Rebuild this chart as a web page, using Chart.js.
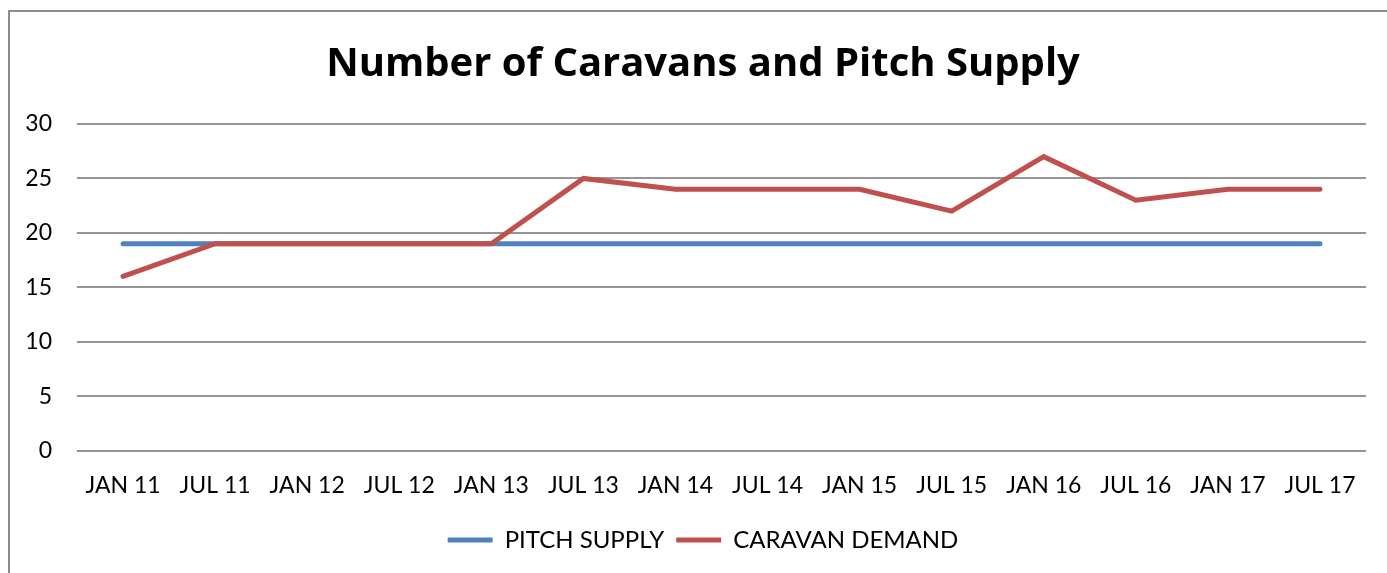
<!DOCTYPE html>
<html>
<head>
<meta charset="utf-8">
<script src="https://cdn.jsdelivr.net/npm/chart.js@4"></script>
<style>
  html, body { margin: 0; padding: 0; background: #fff; overflow: hidden; }
  #frame {
    position: absolute;
    left: 8px;
    top: 10px;
    width: 1388px;
    height: 600px;
    border: 2px solid #8c8c8c;
  }
  #chart { display: block; }
</style>
</head>
<body>
<div id="frame">
  <canvas id="chart" width="1386" height="560"></canvas>
</div>
<script>
// Chart data
const categories = ['JAN 11', 'JUL 11', 'JAN 12', 'JUL 12', 'JAN 13', 'JUL 13', 'JAN 14',
                    'JUL 14', 'JAN 15', 'JUL 15', 'JAN 16', 'JUL 16', 'JAN 17', 'JUL 17'];
const pitchSupply = [19, 19, 19, 19, 19, 19, 19, 19, 19, 19, 19, 19, 19, 19];
const caravanDemand = [16, 19, 19, 19, 19, 25, 24, 24, 24, 22, 27, 23, 24, 24];
const yMin = 0;
const yMax = 30;
const yStep = 5;

const labelFont = { family: 'Lato', size: 23 };

const ctx = document.getElementById('chart').getContext('2d');

new Chart(ctx, {
    type: 'line',
    data: {
        labels: categories,
        datasets: [
            {
                label: 'PITCH SUPPLY',
                data: pitchSupply,
                borderColor: '#4F81BD',
                backgroundColor: '#4F81BD',
                borderWidth: 5,
                borderCapStyle: 'round',
                borderJoinStyle: 'miter',
                pointRadius: 0,
                pointStyle: 'line',
                tension: 0,
                order: 1
            },
            {
                label: 'CARAVAN DEMAND',
                data: caravanDemand,
                borderColor: '#C0504D',
                backgroundColor: '#C0504D',
                borderWidth: 5,
                borderCapStyle: 'round',
                borderJoinStyle: 'miter',
                pointRadius: 0,
                pointStyle: 'line',
                tension: 0,
                order: 0 // red line sits on top of the blue one
            }
        ]
    },
    options: {
        responsive: false,
        animation: false,
        layout: {
            padding: { left: 0, right: 0, top: 0, bottom: 10 }
        },
        scales: {
            x: {
                offset: true,
                grid: { display: false },
                border: { display: false },
                ticks: {
                    color: '#000',
                    font: labelFont,
                    padding: 13,
                    maxRotation: 0,
                    autoSkip: false
                },
                afterFit: (scale) => { scale.height = 65.5; }
            },
            y: {
                min: yMin,
                max: yMax,
                grid: {
                    color: '#959595',
                    lineWidth: 2,
                    drawTicks: false
                },
                border: { display: false },
                ticks: {
                    stepSize: yStep,
                    color: '#000',
                    font: labelFont,
                    padding: 25
                },
                afterFit: (scale) => { scale.width = 67; }
            },
            // empty right-hand axis, only keeps a margin so title and legend stay centred on the frame
            yRight: {
                type: 'linear',
                position: 'right',
                grid: { display: false },
                border: { display: false },
                ticks: { display: false },
                afterFit: (scale) => { scale.width = 30; }
            }
        },
        plugins: {
            title: {
                display: true,
                text: 'Number of Caravans and Pitch Supply',
                color: '#000',
                font: { family: 'Open Sans', size: 40, weight: 'bold' },
                padding: { top: 29, bottom: 35 }
            },
            legend: {
                position: 'bottom',
                labels: {
                    color: '#000',
                    font: { family: 'Lato', size: 24 },
                    usePointStyle: true,
                    pointStyleWidth: 45,
                    padding: 12,
                    sort: (a, b) => a.datasetIndex - b.datasetIndex
                }
            },
            tooltip: { enabled: false }
        }
    }
});
</script>
</body>
</html>
